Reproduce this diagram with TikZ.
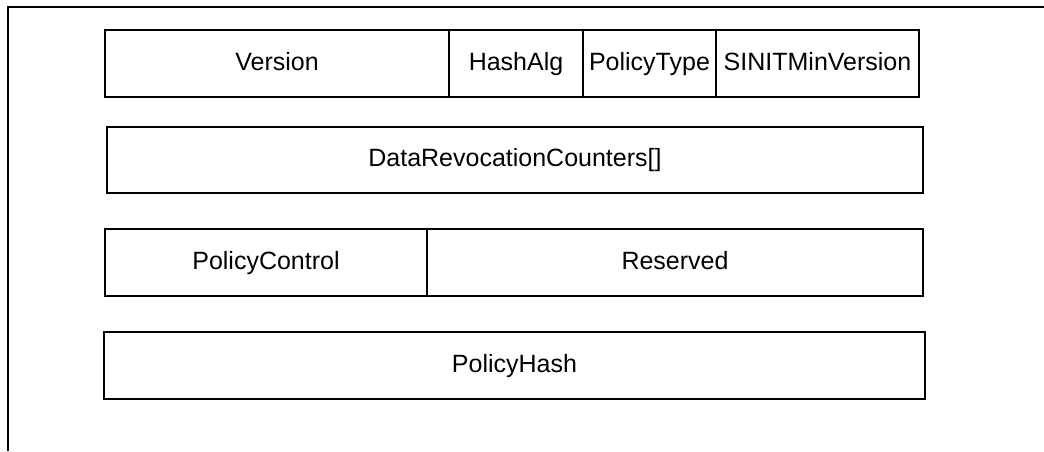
\documentclass[tikz,border=0pt]{standalone}
\usepackage{fontspec}
\setmainfont{Liberation Sans}
\usetikzlibrary{positioning}
\tikzset{
    field/.style={draw, line width=1.6pt, minimum height=67pt, inner sep=0pt, outer sep=0pt,
                  text height=18pt, text depth=5pt,
                  anchor=north west, font=\fontsize{25}{30}\selectfont},
    frame/.style={line width=1.6pt}
}

\begin{document}
\begin{tikzpicture}[x=1pt, y=-1pt]
    \useasboundingbox (0,0) rectangle (1044,451);
    \draw[frame] (8,451) -- (8,7) -- (1044,7);
    % first row
    \node[field, minimum width=344pt] (version) at (105,30) {Version};
    \node[field, minimum width=134pt, right=0pt of version] (hashalg) {HashAlg};
    \node[field, minimum width=133pt, right=0pt of hashalg] (policytype) {PolicyType};
    \node[field, minimum width=203pt, right=0pt of policytype] (sinit) {SINITMinVersion};
    % counters
    \node[field, minimum width=816pt, minimum height=66pt] (counters) at (107,127) {DataRevocationCounters[]};
    % control and reserved
    \node[field, minimum width=322pt] (control) at (105,229) {PolicyControl};
    \node[field, minimum width=496pt, right=0pt of control] (reserved) {Reserved};
    % hash
    \node[field, minimum width=821pt] (hash) at (104,332) {PolicyHash};
\end{tikzpicture}
\end{document}
